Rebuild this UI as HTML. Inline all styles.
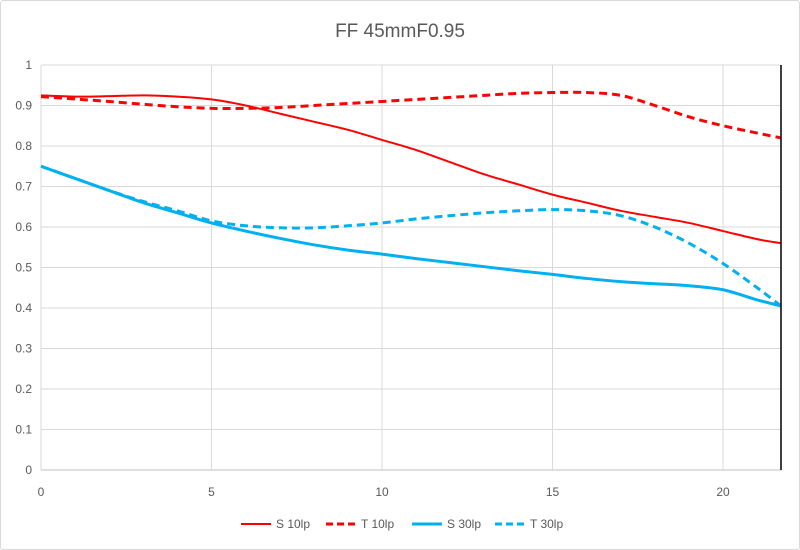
<!DOCTYPE html>
<html><head><meta charset="utf-8"><style>
html,body{margin:0;padding:0;background:#fff}
svg{display:block;font-family:"Liberation Sans",sans-serif}
</style></head><body>
<svg id="c" width="800" height="550">
<rect x="0.5" y="0.5" width="799" height="549" rx="3" fill="#fff" stroke="#d9d9d9"/>
<text x="400" y="37" text-anchor="middle" font-size="19" fill="#595959">FF 45mmF0.95</text>
<g id="grid"></g><g id="series"></g><g id="axes"></g><g id="legend"></g>
</svg>
<script>
const xTicks=[0,5,10,15,20];
const yTicks=[0,0.1,0.2,0.3,0.4,0.5,0.6,0.7,0.8,0.9,1];
const xs=[0,1,2,3,4,5,6,7,8,9,10,11,12,13,14,15,16,17,18,19,20,21,21.7];
const s10=[0.925,0.922,0.923,0.925,0.922,0.915,0.9,0.88,0.86,0.84,0.815,0.79,0.76,0.73,0.705,0.68,0.66,0.64,0.625,0.61,0.59,0.57,0.56];
const t10=[0.922,0.916,0.91,0.903,0.897,0.893,0.893,0.895,0.9,0.905,0.91,0.915,0.92,0.925,0.93,0.932,0.932,0.925,0.9,0.872,0.85,0.832,0.82];
const s30=[0.75,0.72,0.69,0.66,0.635,0.61,0.59,0.572,0.556,0.543,0.533,0.522,0.512,0.502,0.492,0.483,0.473,0.465,0.46,0.455,0.445,0.42,0.405];
const t30=[0.75,0.72,0.69,0.663,0.64,0.615,0.603,0.598,0.598,0.603,0.61,0.62,0.628,0.635,0.64,0.643,0.64,0.628,0.6,0.56,0.51,0.45,0.405];
const names=["S 10lp","T 10lp","S 30lp","T 30lp"];
const X0=41,X1=781,Y0=470,Y1=65,XMAX=21.7;
const sx=v=>X0+v*(X1-X0)/XMAX, sy=v=>Y0-v*(Y0-Y1);
const NS="http://www.w3.org/2000/svg";
function mk(p,t,a){const e=document.createElementNS(NS,t);for(const k in a)e.setAttribute(k,a[k]);p.appendChild(e);return e;}
const grid=document.getElementById('grid'),axes=document.getElementById('axes'),ser=document.getElementById('series'),leg=document.getElementById('legend');
yTicks.forEach(v=>{
 const l=mk(grid,'line',{x1:X0,x2:X1,y1:sy(v),y2:sy(v),stroke:v===0?'#bfbfbf':'#d9d9d9','stroke-width':1});
 
 
 const t=mk(axes,'text',{x:X0-9,y:sy(v)+4,'text-anchor':'end','font-size':12,fill:'#595959'});t.textContent=String(v);
 
 
});
xTicks.forEach(v=>{
 const l=mk(grid,'line',{x1:sx(v),x2:sx(v),y1:Y1,y2:Y0,stroke:'#d9d9d9','stroke-width':1});
 
 
 const t=mk(axes,'text',{x:sx(v),y:Y0+26,'text-anchor':'middle','font-size':12,fill:'#595959'});t.textContent=String(v);
 
 
});
const ra=mk(axes,'line',{x1:X1,x2:X1,y1:Y1,y2:Y0,stroke:'#000','stroke-width':1.5});


function path(ys){const p=xs.map((x,i)=>[sx(x),sy(ys[i])]);let d=`M${p[0][0]},${p[0][1]}`;
 for(let i=0;i<p.length-1;i++){const a=p[i-1]||p[i],b=p[i],c=p[i+1],e=p[i+2]||c;
  d+=` C${b[0]+(c[0]-a[0])/6},${b[1]+(c[1]-a[1])/6} ${c[0]-(e[0]-b[0])/6},${c[1]-(e[1]-b[1])/6} ${c[0]},${c[1]}`;}return d;}
const defs=[[s10,'#ff0000',2,null],[t10,'#ff0000',3,'8,5'],[s30,'#00b0f0',3,null],[t30,'#00b0f0',3,'8,5']];
const sn=['series-s10lp','series-t10lp','series-s30lp','series-t30lp'];
defs.forEach((d,i)=>{
 const a={d:path(d[0]),fill:'none',stroke:d[1],'stroke-width':d[2]};if(d[3])a['stroke-dasharray']=d[3];
 const p=mk(ser,'path',a);
 
 
});
const lx=[241,326,412,495];
defs.forEach((d,i)=>{
 const g=mk(leg,'g',{});
 
 
 const a={x1:lx[i],x2:lx[i]+30,y1:524,y2:524,stroke:d[1],'stroke-width':d[2]};if(d[3])a['stroke-dasharray']='7,4';
 mk(g,'line',a);
 const t=mk(g,'text',{x:lx[i]+35,y:528,'font-size':12,fill:'#595959'});t.textContent=names[i];
});
</script>
</body></html>
